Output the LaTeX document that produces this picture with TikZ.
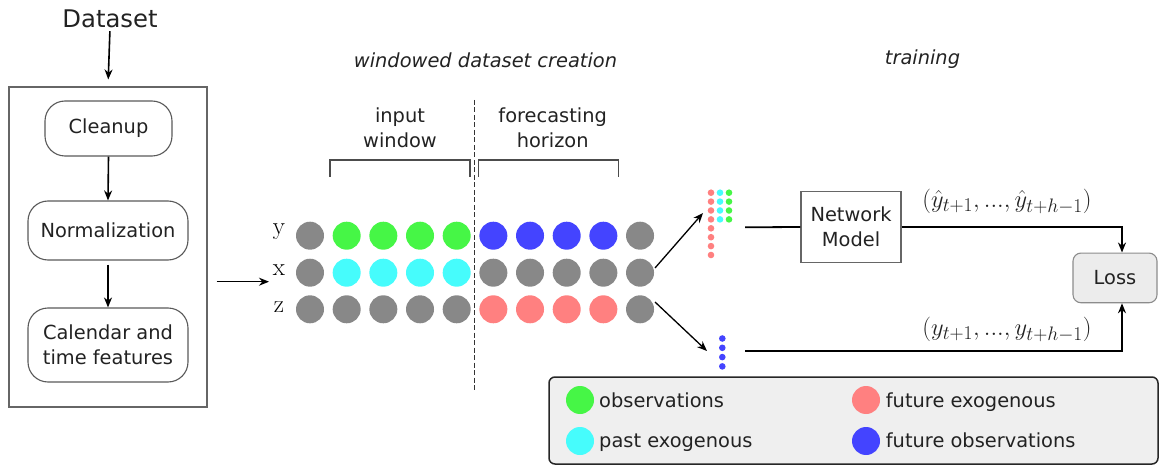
\RequirePackage{fix-cm}
\documentclass[tikz,border=0pt]{standalone}
\usepackage[no-math]{fontspec}
\setmainfont{DejaVu Sans}
\usetikzlibrary{arrows.meta,calc}
\DeclareMathSizes{24.5}{24.5}{19.5}{15}
\DeclareMathSizes{25}{25}{18}{13}
\definecolor{cgray}{RGB}{136,136,136}
\definecolor{cgreen}{RGB}{70,246,70}
\definecolor{ccyan}{RGB}{70,252,252}
\definecolor{cblue}{RGB}{68,68,255}
\definecolor{cred}{RGB}{255,128,128}
\definecolor{legfill}{RGB}{239,239,239}
\definecolor{lossfill}{RGB}{236,236,236}
\definecolor{txtc}{RGB}{34,34,34}
\begin{document}
\begin{tikzpicture}[x=1pt,y=-1pt,
  txt/.style={font=\fontsize{19.4}{25}\selectfont, text=txtc, inner sep=0pt},
  ttl/.style={font=\fontsize{19.4}{25}\selectfont\itshape, text=txtc, inner sep=0pt},
  mth/.style={font=\fontsize{24.5}{28}\selectfont, text=txtc, inner sep=0pt},
  lbl/.style={font=\fontsize{25}{28}\selectfont, text=black, inner sep=0pt},
  rbox/.style={draw=black!65, line width=1.1pt, rounded corners=20pt, txt, align=center},
  sbox/.style={draw=black!60, line width=1.1pt, txt, align=center},
  arr/.style={draw=black, line width=1.6pt, -{Stealth[length=10pt,width=8pt]}},
  conn/.style={draw=black, line width=1.8pt},
  brk/.style={draw=black!70, line width=1.2pt},
  bigdot/.style={circle, inner sep=0pt, minimum size=28pt},
  smalldot/.style={circle, inner sep=0pt, minimum size=6.6pt},
]
\useasboundingbox (0,0) rectangle (1159,465);

% ---------- left: preprocessing ----------
\node[txt, font=\fontsize{24.3}{28}\selectfont] (dataset) at (110,19) {Dataset};
\node[draw=black!60, line width=1.1pt, minimum width=198pt, minimum height=320pt, inner sep=0pt] (prep) at (108,247) {};
\draw[arr, shorten >=7pt, shorten <=3pt] (dataset.south) -- (prep.north);

\node[rbox, minimum width=127pt, minimum height=55pt] (clean) at (108.5,128.5) {Cleanup};
\node[rbox, minimum width=160pt, minimum height=59pt] (norm) at (108,230.5) {Normalization};
\node[rbox, minimum width=160pt, minimum height=74pt] (cal) at (108,345) {Calendar and\\time features};
\draw[arr] (clean.south) -- (norm.north);
\draw[arr, shorten <=4pt] (norm.south) -- (cal.north);

% ---------- titles ----------
\node[ttl] (t1) at (485.5,60) {windowed dataset creation};
\node[ttl] (t2) at (922.5,59) {training};

% ---------- windowed dataset ----------
\node[txt, align=center] (inw) at (400,127.5) {input\\window};
\node[txt, align=center] (foh) at (552.7,127.5) {forecasting\\horizon};
\draw[brk] (330,176.7) -- (330,160) -- (470,160) -- (470,176.7);
\draw[brk] (478.7,176.7) -- (478.7,160) -- (618.3,160) -- (618.3,176.7);
\draw[black!80, line width=1.1pt, dash pattern=on 5pt off 2.5pt] (474.3,100) -- (474.3,392);

\node[lbl] (ly) at (279,232) {$\mathrm{y}$};
\node[lbl] (lx) at (279,270.5) {$\mathrm{x}$};
\node[lbl] (lz) at (279,307.5) {$\mathrm{z}$};

\foreach \i/\c in {0/cgray,1/cgreen,2/cgreen,3/cgreen,4/cgreen,5/cblue,6/cblue,7/cblue,8/cblue,9/cgray}
  \node[bigdot, fill=\c] (d-0-\i) at (310+36.67*\i,235.7) {};
\foreach \i/\c in {0/cgray,1/ccyan,2/ccyan,3/ccyan,4/ccyan,5/cgray,6/cgray,7/cgray,8/cgray,9/cgray}
  \node[bigdot, fill=\c] (d-1-\i) at (310+36.67*\i,272.7) {};
\foreach \i/\c in {0/cgray,1/cgray,2/cgray,3/cgray,4/cgray,5/cred,6/cred,7/cred,8/cred,9/cgray}
  \node[bigdot, fill=\c] (d-2-\i) at (310+36.67*\i,309.3) {};

\coordinate (a0) at (216.7,281.7);
\coordinate (a1) at (269,281.7);
\draw[arr, line width=1.3pt] (a0) -- (a1);

% ---------- small windows ----------
\foreach \k in {0,...,7}
  \node[smalldot, fill=cred] (r-\k) at (711,192.7+8.9*\k) {};
\foreach \k in {0,...,3} {
  \node[smalldot, fill=ccyan] (c-\k) at (720,192.7+8.9*\k) {};
  \node[smalldot, fill=cgreen] (g-\k) at (729,192.7+8.9*\k) {};
}
\foreach \k in {0,...,3}
  \node[smalldot, fill=cblue] (b-\k) at (722.3,338.5+9.3*\k) {};

\coordinate (s1) at (655,268);
\coordinate (e1) at (703,213);
\coordinate (s2) at (655,302);
\coordinate (e2) at (707,351);
\draw[arr, line width=1.3pt] (s1) -- (e1);
\draw[arr, line width=1.3pt] (s2) -- (e2);

% ---------- training ----------
\node[sbox, minimum width=100pt, minimum height=70.6pt] (net) at (851,227) {Network\\Model};
\node[draw=black!45, line width=1.1pt, fill=lossfill, rounded corners=8pt, minimum width=84pt, minimum height=49.7pt, txt] (loss) at (1115,277.9) {Loss};

\coordinate (m1) at (745,227.3);
\coordinate (m2) at (745,350.7);
\draw[conn] (m1) -- (net.west);
\draw[arr, line width=1.8pt] (net.east) -| ([xshift=7pt]loss.north);
\draw[arr, line width=1.8pt] (m2) -| ([xshift=7pt]loss.south);

\node[mth] (yhat) at (1007,202) {$(\hat{y}_{t+1},...,\hat{y}_{t+h-1})$};
\node[mth] (ytrue) at (1007,330) {$(y_{t+1},...,y_{t+h-1})$};

% ---------- legend ----------
\node[draw=black!85, line width=1.5pt, fill=legfill, rounded corners=6pt, minimum width=609pt, minimum height=87pt, inner sep=0pt] (legend) at (853.5,420.5) {};
\node[bigdot, fill=cgreen] (lg1) at (580,400) {};
\node[bigdot, fill=ccyan] (lg2) at (580,441) {};
\node[bigdot, fill=cred] (lg3) at (866,400) {};
\node[bigdot, fill=cblue] (lg4) at (866,441) {};
\node[txt, anchor=base west] (lt1) at (599,407.5) {observations};
\node[txt, anchor=base west] (lt2) at (599,447) {past exogenous};
\node[txt, anchor=base west] (lt3) at (885.7,407.5) {future exogenous};
\node[txt, anchor=base west] (lt4) at (885.7,447) {future observations};
\end{tikzpicture}
\end{document}
